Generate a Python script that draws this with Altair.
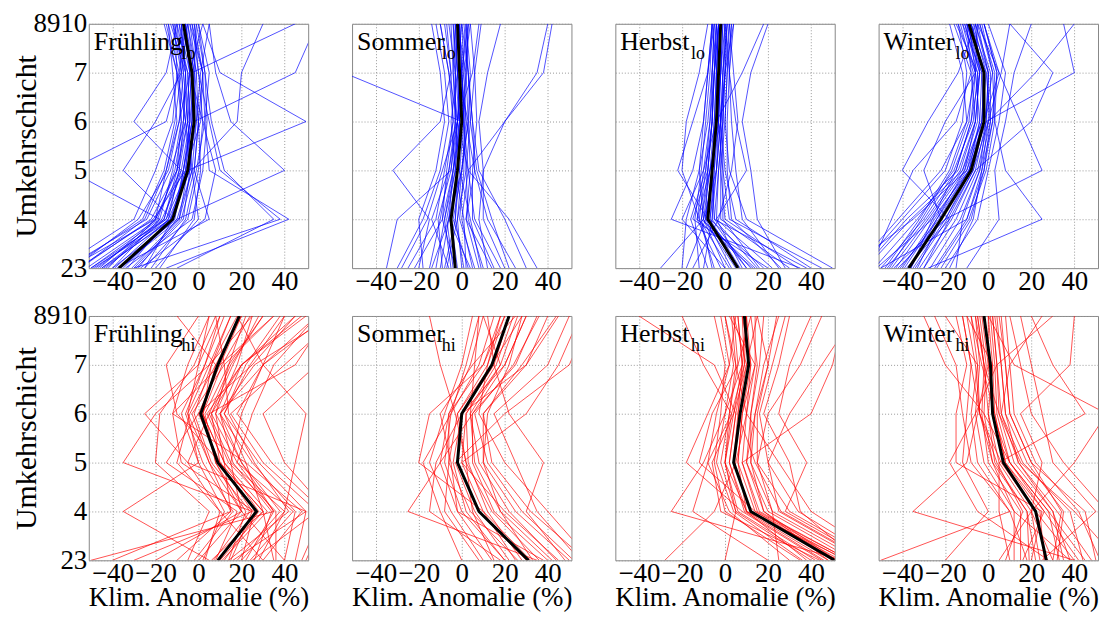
import altair as alt
import pandas as pd

# ---------------- data ----------------
levels = [3, 4, 5, 6, 7, 8]
x_ticks = [-40, -20, 0, 20, 40]
y_ticks = [3, 4, 5, 6, 7, 8]
seasons = ["Frühling", "Sommer", "Herbst", "Winter"]
subs = ["lo", "hi"]
sub_x = [93, 90, 76, 77]

fruehling_lo_mean = [-37, -12, -5, -2, -3, -7]
fruehling_lo = [
    [-45, -15, -8, -4, -5, -10], [-60, -20, -10, -6, -8, -12], [-30, -8, -2, 0, -1, -5],
    [-50, -18, -12, -8, -10, -15], [-25, -5, 0, 2, 0, -3], [-55, -25, -15, -10, -12, -14],
    [-40, -10, -3, -1, -2, -6], [-35, -12, -6, -3, -4, -9], [-20, 0, -3, -5, -6, -8],
    [-65, -30, -20, -12, -10, -11], [-15, 42, 5, 3, 2, -4], [-30, 38, 10, 5, 0, -2],
    [-45, -12, -35, -20, -8, -5], [-38, 5, -2, 0, 2, -3], [-50, -15, -5, 50, 10, 2],
    [-28, -10, 40, 15, 8, 5], [-42, -20, -8, -30, -15, -10], [-33, -14, -4, -2, 45, 55],
    [-55, -22, -10, -5, -3, 45], [-48, -16, -9, -7, -6, -13], [-22, -6, -1, 3, 5, 0],
    [-36, -11, -7, -3, -1, -4], [-58, -28, -14, -9, -7, -8], [-27, 3, 8, 2, -4, -7],
    [-40, -18, -60, -15, -9, -6], [-10, 35, 12, 6, 3, -1], [-44, -13, -6, -4, -5, -12],
    [-31, -9, -3, 18, 20, 30],
    [-52, -19, -11, -7, -6, -9], [-47, -17, -7, -3, -2, -5], [-62, -24, -13, -6, -4, -6],
    [-29, -7, -4, -2, -3, -8], [-39, -14, -9, -5, -7, -11], [-56, -21, -6, 1, 2, -2],
    [-34, -3, 2, 4, 3, 0], [-43, -16, -10, -8, -9, -14], [-25, -12, -7, -4, -2, -1],
    [-60, -26, -16, -11, -8, -10], [-37, -9, -5, -1, 1, 5], [-49, -13, -4, -6, -10, -16],
    [-18, -2, 1, 0, -3, -6], [-46, -20, -15, -9, -4, 2],
]

sommer_lo_mean = [-3, -5, -2, 0, -1, -2]
sommer_lo = [
    [-5, -8, -4, -1, -2, -3], [0, -2, 0, 2, 1, 0], [-15, -10, -6, -3, -4, -5],
    [10, 3, 2, 4, 3, 2], [-35, -30, -5, -2, 0, -1], [30, 20, 8, 5, 3, 1],
    [-20, -15, -32, -10, -5, -8], [5, 0, 3, 20, 38, 42], [-10, -6, -2, 0, -55, -60],
    [15, 5, 5, 7, 6, 4], [-25, -12, -8, -4, -6, -10], [3, -4, 0, 3, 2, -2],
    [20, 10, 10, 20, 35, 40], [-8, -3, -1, 1, 0, -1], [-30, -18, -10, -6, -8, -12],
    [8, 2, 4, 3, -2, -4], [-12, -8, -3, -1, -3, -6], [25, 12, 6, 2, 0, 3],
    [-2, -5, -2, 0, -1, -2], [12, 8, 10, 8, 12, 18], [-18, -20, -12, -8, -10, -14],
    [2, 1, -3, -5, -2, 0], [-6, -14, -6, -2, 5, 8], [35, 22, 3, -2, -4, -3],
    [-4, -7, -3, -2, -1, -1], [6, -1, 1, 1, 2, 3], [-9, -11, -5, -3, -3, -4],
    [18, 6, 3, 1, 0, -1], [-22, -9, -4, 0, 2, 3], [1, -3, -2, -1, -2, -3],
    [-14, -6, 0, 3, 4, 2], [9, 4, -1, -3, -3, -2], [-3, -9, -7, -4, -5, -7],
    [14, 2, 6, 5, 3, 0], [-28, -16, -9, -2, 1, 4], [4, -6, -4, -2, -6, -10],
    [-7, -2, 2, 1, 0, 2], [22, 14, 7, 4, 6, 9],
]

herbst_lo_mean = [6, -8, -6, -4, -3, -2]
herbst_lo = [
    [5, -10, -7, -5, -4, -3], [15, -5, -3, -1, 0, 1], [-5, -12, -9, -7, -6, -5],
    [30, -2, -2, 0, 1, 2], [-20, -18, -12, -8, -6, -4], [40, 5, 0, -2, -1, 0],
    [10, -8, -22, -15, -8, -5], [0, -20, -10, -4, -2, -1], [25, 8, 5, 3, 2, 4],
    [-10, -6, -5, -3, -4, -6], [20, -15, -8, -6, -5, -3], [35, -25, -15, -10, -8, -6],
    [8, -4, 10, 5, 2, 0], [-30, -10, -4, -2, -3, -4], [12, -9, -6, -4, 8, 18],
    [45, 2, -1, -3, -2, -1], [2, -12, -20, -18, -12, -8], [18, -7, -4, -2, -1, 1],
    [-15, -3, 3, 6, 4, 2], [28, 15, 12, 8, 12, 20], [6, -8, -6, -5, -4, -3],
    [-8, -16, -9, -6, -5, -4], [50, 10, 2, 0, 1, 3], [14, -11, -7, -3, -2, -2],
    [3, -9, -8, -6, -5, -4], [10, -6, -4, -3, -3, -2], [-2, -13, -10, -7, -5, -3],
    [22, -4, -3, -1, 0, 0], [-12, -14, -11, -9, -7, -6], [16, -1, -1, -1, -1, 1],
    [7, -7, -5, -4, -4, -3], [34, 0, -2, -2, 0, 2], [-6, -11, -8, -6, -6, -5],
    [26, 3, 1, 1, 2, 3], [0, -10, -12, -10, -8, -6], [38, -5, -6, -4, -3, -2],
    [13, -13, -7, -2, 0, 4], [-18, -9, -6, -4, -2, 0],
]

winter_lo_mean = [-37, -22, -8, -2, -2, -9]
winter_lo = [
    [-40, -25, -10, -4, -3, -10], [-50, -30, -15, -8, -6, -12], [-30, -15, -5, 0, 0, -6],
    [-60, -40, -20, -12, -10, -14], [-25, -10, -3, 2, 3, -4], [-45, -28, -12, -5, -5, -15],
    [-55, -45, -35, -15, -8, -10], [-20, -5, 0, 5, 8, 0], [-35, -20, -8, -3, -2, -8],
    [-65, -35, -10, -2, 5, -5], [-28, 25, 8, 3, 2, -3], [-42, -20, 25, 15, 5, -2],
    [-38, -18, -6, 20, 30, 10], [-15, -12, -4, -1, 40, 35], [-48, -32, -18, -10, -12, -18],
    [-33, -22, -30, -20, -6, -5], [-52, -26, -9, -1, 0, -8], [-22, -8, -2, 1, -1, -10],
    [-58, -38, -14, -6, -4, -11], [-36, -24, -11, -6, -8, -16], [-10, 5, 3, 8, 12, 20],
    [-44, -20, -7, 0, 22, 40], [-30, -18, -40, -28, -14, -6], [-50, -10, -2, 2, 4, -2],
    [-43, -27, -11, -3, -1, -7], [-47, -29, -13, -6, -4, -10], [-32, -17, -6, -1, 0, -5],
    [-62, -42, -22, -10, -6, -9], [-27, -13, -4, 1, 1, -6], [-39, -24, -9, -2, -3, -12],
    [-53, -33, -16, -7, -5, -11], [-24, -9, -1, 3, 4, -2], [-46, -31, -17, -9, -7, -13],
    [-34, -19, -7, -2, 2, -4], [-57, -36, -12, -3, -2, -8], [-41, -23, -9, -4, -6, -14],
    [-18, -7, -3, 0, 6, 10], [-36, -26, -15, -8, -4, -6],
]

fruehling_hi_mean = [9, 27, 9, 1, 9, 19]
fruehling_hi = [
    [10, 30, 10, 0, 10, 20], [20, 40, 15, 5, 15, 30], [0, 20, 5, -5, 5, 15],
    [-50, 35, 20, 10, 30, 60], [40, 45, 25, 10, 20, 50], [5, -35, 0, -5, 0, 10],
    [15, 25, -35, -20, 5, 25], [25, 55, 30, 15, 40, 65], [30, 10, -5, -25, 0, 5],
    [-10, 15, 5, -3, 12, 35], [50, 60, 40, 30, 55, 70], [12, 28, 12, 2, 8, -10],
    [8, 18, -15, 0, 25, 45], [35, 30, 10, -10, -15, 0], [-20, 20, 15, 20, 30, 40],
    [18, 38, 20, 8, 18, 25], [2, 12, 0, -8, 3, 12], [45, 50, -5, 5, 45, 60],
    [-5, 5, -20, -18, -2, 8], [22, 35, 18, 25, 35, 55], [14, 22, 8, 3, 14, 22],
    [28, 40, 45, 50, 30, 18], [6, 30, 22, -12, -5, 5], [40, 20, 8, 2, 6, 15],
    [-30, 25, 10, 6, 20, 45], [16, 50, 28, 12, 22, 38],
    [11, 32, 12, 2, 11, 24], [24, 44, 18, 6, 16, 28], [-2, 16, 2, -6, 3, 10],
    [30, 48, 22, 12, 24, 40], [7, 24, 6, -2, 6, 18], [36, 36, 14, 4, 20, 48],
    [-40, 15, 12, 8, 14, 30], [20, 26, -8, -12, 10, 35], [48, 58, 34, 18, 30, 55],
    [3, 10, -10, -4, 8, 20], [26, 34, 16, 10, 26, 62], [14, 42, 26, 14, 12, 8],
]

sommer_hi_mean = [31, 8, -2, 0, 14, 22]
sommer_hi = [
    [30, 8, -2, 0, 15, 22], [40, 15, 5, 5, 20, 30], [20, 0, -8, -5, 8, 15],
    [50, 25, 10, 10, 30, 40], [10, -5, -15, -8, 0, 5], [35, -25, -10, 5, 25, 35],
    [25, 10, -20, -15, 10, 20], [45, 20, 0, 30, 45, 55], [15, 5, 2, -3, -10, -15],
    [55, 35, 25, 15, 40, 50], [28, 12, 3, 2, 18, 10], [38, -2, -5, -10, 5, 25],
    [60, 40, 20, 8, 12, 18], [22, 6, -3, 20, 50, 60], [0, -10, -18, -5, 2, 8],
    [33, 18, 10, 12, 22, 28], [48, 30, 38, 22, 15, 12], [18, -15, -12, 0, 30, 45],
    [32, 10, 0, 2, 16, 24], [42, 18, 6, 4, 18, 26], [26, 4, -6, -6, 10, 18],
    [52, 28, 12, 6, 24, 36], [14, -2, -10, -6, 4, 10], [36, 14, 2, -2, 12, 20],
    [58, 32, 14, 10, 28, 44], [20, 2, -4, 0, 20, 30], [44, 22, 8, 4, 6, 8],
    [8, -8, -6, -2, 14, 28],
]

herbst_hi_mean = [51, 12, 4, 7, 11, 9]
herbst_hi = [
    [50, 12, 4, 7, 11, 9], [60, 20, 10, 12, 15, 12], [40, 5, -2, 2, 5, 3],
    [70, 30, 15, 15, 20, 15], [55, -25, -10, 0, 8, 6], [45, 8, -18, -8, 2, 5],
    [65, 25, 20, 30, 45, 60], [35, 0, -5, -2, 0, -5], [-28, -5, 5, 10, 12, 8],
    [58, 15, 8, 40, 50, 55], [48, 10, 2, 5, -5, -40], [20, -15, -8, 3, 9, 10],
    [62, 35, 30, 18, 25, 30], [52, 18, 12, 14, 18, 25], [0, 5, 0, 3, -10, -20],
    [44, -2, -6, 4, 10, 15], [68, 28, 38, 25, 30, 40], [38, 10, 6, 8, 14, 2],
    [56, 14, -12, -6, 6, 4], [25, 22, 15, 20, 35, 45], [75, 40, 25, 10, 5, 0],
    [52, 14, 6, 8, 12, 10], [46, 9, 2, 5, 9, 8], [58, 16, 8, 10, 14, 14],
    [42, 6, 0, 4, 8, 6], [63, 22, 12, 12, 16, 18], [54, 12, 4, 6, 10, 4],
    [48, 18, 10, 14, 20, 24], [36, 4, -4, 0, 4, 0], [66, 26, 14, 6, 8, 10],
    [30, 2, -8, -4, 2, -2], [57, 10, 0, 2, 6, 12], [71, 34, 20, 16, 22, 28],
]

winter_hi_mean = [27, 22, 7, 2, 1, -2]
winter_hi = [
    [27, 22, 7, 2, 1, -2], [35, 30, 12, 5, 4, 2], [15, 15, 0, -3, -2, -5],
    [50, 45, 20, 10, 8, 5], [-50, 10, -5, -8, -5, -8], [40, -35, -10, -5, 0, 0],
    [20, 25, -15, -15, -10, -15], [55, 55, 35, 20, 15, 10], [10, 5, 5, 45, 30, 20],
    [30, 20, 25, 15, 38, 40], [45, 28, 10, -2, -20, -30], [22, 18, 3, 0, 2, -10],
    [60, 40, 15, 5, -2, -5], [-20, 0, -12, -10, -8, -12], [32, 35, 18, 8, 6, 3],
    [38, 12, 2, -4, -5, -20], [25, 50, 30, 25, 20, 15], [18, 10, -8, -12, -15, -25],
    [48, 32, 14, 6, 10, 25], [5, 20, 40, 55, 12, 0], [42, 26, 8, 3, -3, -8],
    [28, -5, -18, -6, 4, 30],
    [26, 24, 8, 3, 2, 0], [33, 28, 10, 4, 3, 1], [19, 18, 2, -2, -1, -4],
    [44, 38, 16, 6, 4, 2], [12, 12, -2, -6, -4, -6], [38, 30, 14, 8, 6, 4],
    [24, 20, 5, 0, -2, -6], [52, 42, 22, 12, 10, 8], [8, 16, 4, -4, -6, -10],
    [30, 34, 20, 10, 8, 6], [40, 22, 6, -4, -8, -12], [16, 26, 10, 2, 0, -3],
]

members_lo = [fruehling_lo, sommer_lo, herbst_lo, winter_lo]
means_lo = [fruehling_lo_mean, sommer_lo_mean, herbst_lo_mean, winter_lo_mean]
members_hi = [fruehling_hi, sommer_hi, herbst_hi, winter_hi]
means_hi = [fruehling_hi_mean, sommer_hi_mean, herbst_hi_mean, winter_hi_mean]

FONT = "Liberation Serif"


def panel(season, sub, sx, members, mean, color, first_col, bottom_row):
    rows = []
    for i, m in enumerate(members):
        for lv, v in zip(levels, m):
            rows.append({"member": i, "level": lv, "anom": v})
    df = pd.DataFrame(rows)
    mdf = pd.DataFrame({"level": levels, "anom": mean})

    xscale = alt.Scale(domain=[-51, 51], nice=False, zero=False)
    yscale = alt.Scale(domain=[3, 8], nice=False, zero=False)
    xaxis = alt.Axis(values=x_ticks, labelOverlap=False, labelPadding=0,
                     title="Klim. Anomalie (%)" if bottom_row else None,
                     titlePadding=-2)
    if first_col:
        yaxis = alt.Axis(values=y_ticks, labelOverlap=False, labelPadding=2,
                         title="Umkehrschicht", titlePadding=-9,
                         labelExpr="datum.value == 3 ? '23' : datum.value == 8 ? '8910' : datum.label")
    else:
        yaxis = alt.Axis(values=y_ticks, labels=False, title=None)

    x = alt.X("anom:Q", scale=xscale, axis=xaxis)
    y = alt.Y("level:Q", scale=yscale, axis=yaxis)

    thin = alt.Chart(df).mark_line(color=color, strokeWidth=0.8, opacity=0.85, clip=True).encode(
        x=x, y=y, detail="member:N", order="level:Q")
    thick = alt.Chart(mdf).mark_line(color="black", strokeWidth=3, clip=True).encode(
        x=x, y=y, order="level:Q")
    t1 = alt.Chart(pd.DataFrame({"t": [season]})).mark_text(
        align="left", baseline="alphabetic", font=FONT, fontSize=26, color="black").encode(
        text="t:N", x=alt.value(5), y=alt.value(26))
    t2 = alt.Chart(pd.DataFrame({"t": [sub]})).mark_text(
        align="left", baseline="alphabetic", font=FONT, fontSize=18, color="black").encode(
        text="t:N", x=alt.value(sx), y=alt.value(35))
    return alt.layer(thin, thick, t1, t2).properties(width=220, height=245)


row_lo = alt.hconcat(*[
    panel(seasons[i], "lo", sub_x[i], members_lo[i], means_lo[i], "#0000ff", i == 0, False)
    for i in range(4)], spacing=44, bounds="flush")
row_hi = alt.hconcat(*[
    panel(seasons[i], "hi", sub_x[i], members_hi[i], means_hi[i], "#ff0000", i == 0, True)
    for i in range(4)], spacing=44, bounds="flush")

chart = alt.vconcat(row_lo, row_hi, spacing=6).properties(
    padding={"left": 3, "top": 0, "right": 0, "bottom": 0}
).configure_view(
    stroke="#888888", strokeWidth=1
).configure_axis(
    labelFont=FONT, labelFontSize=27, labelColor="black",
    titleFont=FONT, titleFontSize=27, titleFontWeight="normal", titleColor="black",
    grid=True, gridColor="#999999", gridDash=[1, 2], gridOpacity=1,
    domain=False, ticks=False,
).configure_axisY(titleFontSize=30)

chart.save("out.html", embed_options={"renderer": "svg", "actions": False})
